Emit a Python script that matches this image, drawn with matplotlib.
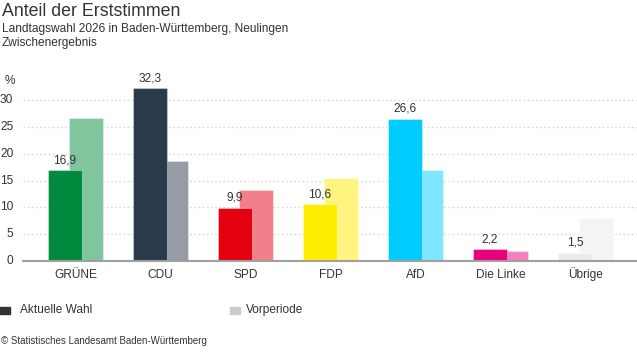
import numpy as np
import matplotlib
matplotlib.use('Agg')
from matplotlib import pyplot as plt
from matplotlib.patches import Rectangle

plt.rcParams['font.family'] = ['Liberation Sans', 'DejaVu Sans']

# Data
parties = ['GRÜNE', 'CDU', 'SPD', 'FDP', 'AfD', 'Die Linke', 'Übrige']
current = [16.9, 32.3, 9.9, 10.6, 26.6, 2.2, 1.5]
previous = [26.7, 18.7, 13.3, 15.5, 17.0, 1.8, 8.0]
col_current = ['#008a3d', '#2b3a4a', '#e3000f', '#ffed00', '#00ccff', '#e6007e', '#ebebeb']
col_previous = ['#80c59e', '#959ca5', '#f1808a', '#fff480', '#80e5ff', '#f280be', '#f4f4f4']

W, H = 637, 352
fig = plt.figure(figsize=(W / 100, H / 100), dpi=100)
ax = fig.add_axes([23 / W, 91.5 / H, 614 / W, 176 / H])

x = np.arange(len(parties))
ax.bar(x + 0.1235, previous, width=0.4, color=col_previous, zorder=2,
       edgecolor=(1, 1, 1, 0.35), linewidth=0.8)
bars = ax.bar(x - 0.1235, current, width=0.4, color=col_current, zorder=3,
              edgecolor=(1, 1, 1, 0.35), linewidth=0.8)

for b, v in zip(bars, current):
    ax.text(b.get_x() + b.get_width() / 2, v + 0.7, f'{v:.1f}'.replace('.', ','),
            ha='center', va='bottom', fontsize=8.6, color='#333333', clip_on=False)

ax.set_xlim(-0.6176, 6.606)
ax.set_ylim(0, 33)
ax.set_yticks([0, 5, 10, 15, 20, 25, 30])
ax.set_xticks(x)
ax.set_xticklabels(parties)
ax.tick_params(axis='both', length=0, labelsize=8.6, labelcolor='#333333')
ax.tick_params(axis='y', pad=7)
ax.tick_params(axis='x', pad=12.4)
for lbl in ax.get_yticklabels():
    lbl.set_verticalalignment('center')
for lbl in ax.get_xticklabels():
    lbl.set_verticalalignment('baseline')

ax.grid(axis='y', linestyle=(0, (1.2, 1.8)), color='#d8d8d8', linewidth=1, zorder=0)
for s in ['top', 'right', 'left']:
    ax.spines[s].set_visible(False)
ax.spines['bottom'].set_color('#a0a0a0')
ax.spines['bottom'].set_linewidth(1.5)
ax.spines['bottom'].set_zorder(4)

fig.text(5 / W, 1 - 81 / H, '%', fontsize=8.6, color='#333333', va='center')

# Titles
fig.text(2 / W, 1 - 3 / H, 'Anteil der Erststimmen', fontsize=12.8, color='#333333', va='top')
fig.text(2 / W, 1 - 23 / H, 'Landtagswahl 2026 in Baden-Württemberg, Neulingen',
         fontsize=8.6, color='#333333', va='top')
fig.text(2 / W, 1 - 37 / H, 'Zwischenergebnis', fontsize=8.6, color='#333333', va='top')

# Legend
fig.add_artist(Rectangle((0, 1 - 314 / H), 10 / W, 7 / H, transform=fig.transFigure,
                         color='#333333'))
fig.text(20 / W, 1 - 310 / H, 'Aktuelle Wahl', fontsize=8.6, color='#333333', va='center')
fig.add_artist(Rectangle((230 / W, 1 - 314 / H), 10 / W, 7 / H, transform=fig.transFigure,
                         color='#cccccc'))
fig.text(246 / W, 1 - 310 / H, 'Vorperiode', fontsize=8.6, color='#333333', va='center')

fig.text(1 / W, 1 - 341 / H, '© Statistisches Landesamt Baden-Württemberg',
         fontsize=7, color='#333333', va='center')

fig.savefig('out.png', dpi=100)
